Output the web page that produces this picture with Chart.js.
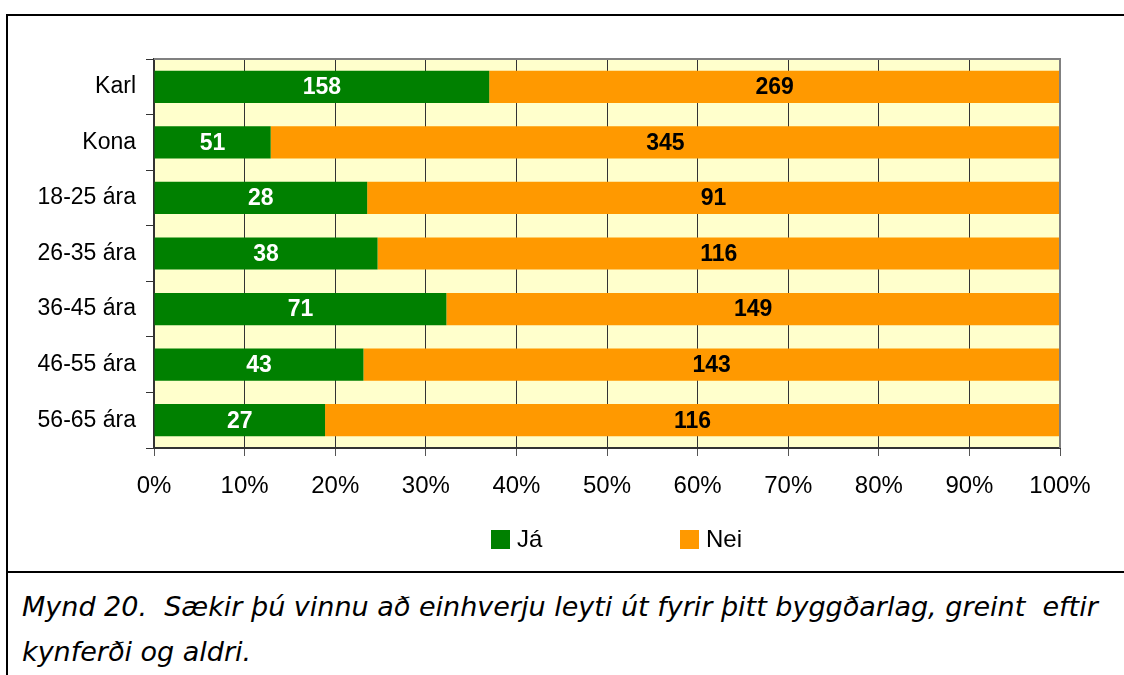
<!DOCTYPE html>
<html>
<head>
<meta charset="utf-8">
<script src="https://cdn.jsdelivr.net/npm/chart.js@4.4.0/dist/chart.umd.min.js"></script>
<style>
  body { margin: 0; background: #fff; width: 1124px; height: 675px; position: relative; overflow: hidden; }
  #frame { position: absolute; left: 6px; top: 14px; width: 1124px; height: 700px; border-left: 2px solid #000; border-top: 2px solid #000; }
  #divider { position: absolute; left: 6px; top: 571px; width: 1124px; height: 2px; background: #000; }
  #wrap { position: absolute; left: 0; top: 0; width: 1124px; height: 572px; }
  #legend { position: absolute; top: 527px; left: 0; width: 1124px; font-family: "Liberation Sans", Arial, sans-serif; font-size: 24px; color: #000; }
  .item { position: absolute; top: 0; line-height: 24px; white-space: nowrap; }
  .sw { display: inline-block; width: 19px; height: 19px; vertical-align: -2px; margin-right: 7px; }
  #caption { position: absolute; left: 22px; top: 584px; font-family: "DejaVu Sans", Verdana, sans-serif; font-style: italic; font-size: 27px; line-height: 45px; color: #000; white-space: pre; }
</style>
</head>
<body>
<div id="frame"></div>
<div id="divider"></div>
<div id="wrap"><canvas id="chart" width="1124" height="572"></canvas></div>
<div id="legend"></div>
<div id="caption">Mynd 20.  Sækir þú vinnu að einhverju leyti út fyrir þitt byggðarlag, greint  eftir
kynferði og aldri.</div>
<script>
// Gögn
const flokkar = ['Karl', 'Kona', '18-25 ára', '26-35 ára', '36-45 ára', '46-55 ára', '56-65 ára'];
const ja = [158, 51, 28, 38, 71, 43, 27];
const nei = [269, 345, 91, 116, 149, 143, 116];
const xTicks = [0, 10, 20, 30, 40, 50, 60, 70, 80, 90, 100];
const raðir = ['Já', 'Nei'];
const litir = ['#008000', '#FF9900'];

document.addEventListener('DOMContentLoaded', function() {
    const jaPct = ja.map((v, i) => v / (v + nei[i]) * 100);
    const neiPct = nei.map((v, i) => v / (ja[i] + v) * 100);

    // bakgrunnur og rammi teiknunarsvæðis
    const plotBg = {
        id: 'plotBg',
        beforeDraw(chart) {
            const a = chart.chartArea, c = chart.ctx;
            c.save();
            c.fillStyle = '#FFFFCC';
            c.fillRect(a.left, a.top, a.right - a.left, a.bottom - a.top);
            c.restore();
        },
        afterDraw(chart) {
            const a = chart.chartArea, c = chart.ctx;
            c.save();
            c.strokeStyle = '#808080';
            c.lineWidth = 2;
            c.beginPath();
            c.moveTo(a.left, a.top);
            c.lineTo(a.right, a.top);
            c.lineTo(a.right, a.bottom);
            c.stroke();
            c.restore();
        }
    };

    // talnamerki inni í súlum
    const barLabels = {
        id: 'barLabels',
        afterDatasetsDraw(chart) {
            const c = chart.ctx;
            c.save();
            c.font = 'bold 23px "Liberation Sans", Arial, sans-serif';
            c.textAlign = 'center';
            c.textBaseline = 'middle';
            const raw = [ja, nei];
            chart.data.datasets.forEach((ds, di) => {
                chart.getDatasetMeta(di).data.forEach((bar, i) => {
                    const x = (bar.x + bar.base) / 2;
                    c.fillStyle = di === 0 ? '#fff' : '#000';
                    c.fillText(String(raw[di][i]), x, bar.y + 1);
                });
            });
            c.restore();
        }
    };

    new Chart(document.getElementById('chart'), {
        type: 'bar',
        data: {
            labels: flokkar,
            datasets: [
                { label: raðir[0], data: jaPct, backgroundColor: litir[0], barPercentage: 0.58, categoryPercentage: 1 },
                { label: raðir[1], data: neiPct, backgroundColor: litir[1], barPercentage: 0.58, categoryPercentage: 1 }
            ]
        },
        options: {
            indexAxis: 'y',
            responsive: false,
            animation: false,
            layout: { padding: { top: 59, right: 64, bottom: 64, left: 0 } },
            plugins: { legend: { display: false }, tooltip: { enabled: false } },
            scales: {
                x: {
                    stacked: true,
                    min: 0,
                    max: 100,
                    afterBuildTicks(s) { s.ticks = xTicks.map(v => ({ value: v })); },
                    afterFit(s) { s.height = 60; },
                    grid: { color: '#333', lineWidth: 1, tickLength: 8, tickColor: '#555' },
                    border: { color: '#333', width: 2 },
                    ticks: {
                        padding: 16,
                        color: '#000',
                        font: { family: '"Liberation Sans", Arial, sans-serif', size: 24 },
                        callback: v => v + '%'
                    }
                },
                y: {
                    stacked: true,
                    afterFit(s) { s.width = 154; },
                    grid: { drawOnChartArea: false, tickLength: 8, color: '#333' },
                    border: { color: '#333', width: 2 },
                    ticks: {
                        padding: 10,
                        color: '#000',
                        font: { family: '"Liberation Sans", Arial, sans-serif', size: 23 }
                    }
                }
            }
        },
        plugins: [plotBg, barLabels]
    });

    // skýringar
    const legend = document.getElementById('legend');
    const pos = [491, 680];
    raðir.forEach((r, i) => {
        const el = document.createElement('span');
        el.className = 'item';
        el.style.left = pos[i] + 'px';
        el.innerHTML = '<span class="sw" style="background:' + litir[i] + '"></span>' + r;
        legend.appendChild(el);
    });
});
</script>
</body>
</html>
